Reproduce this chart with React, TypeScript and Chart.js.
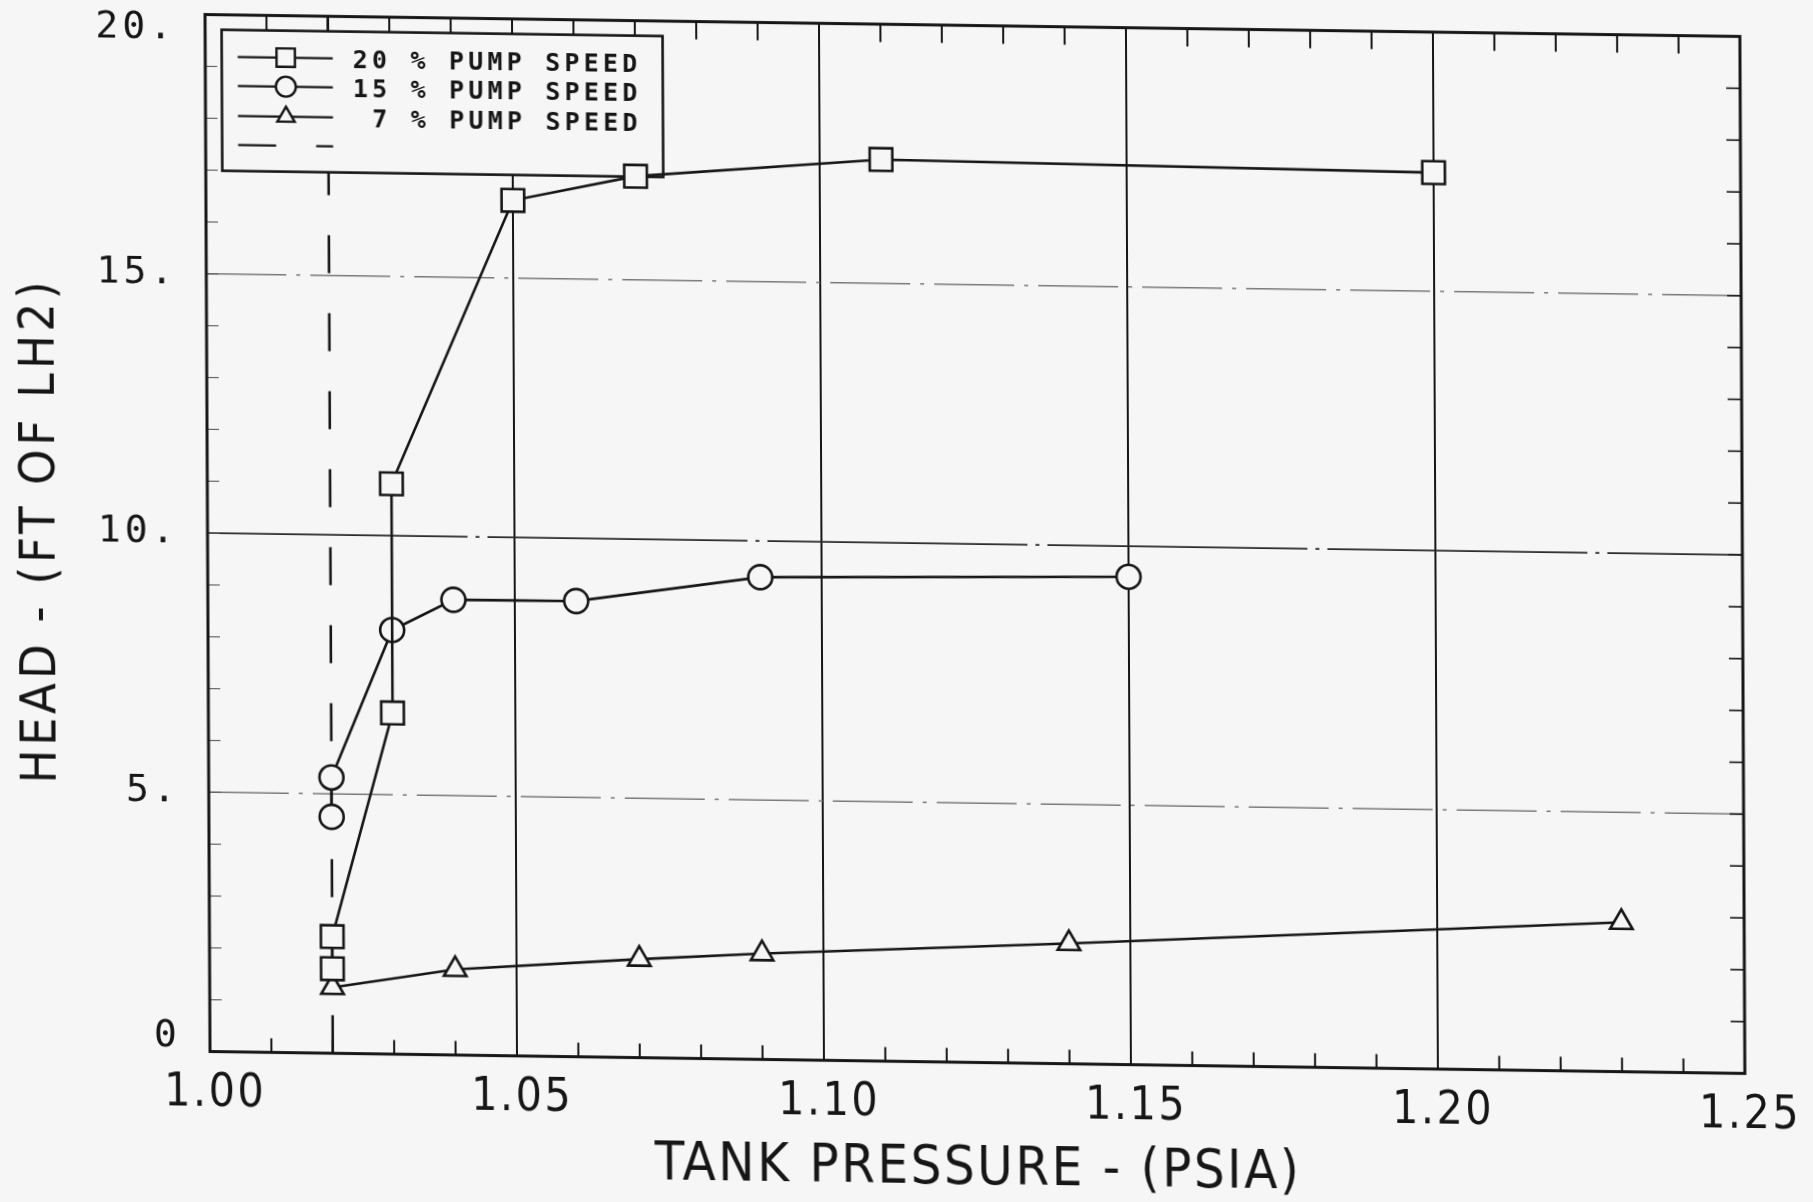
import React, { useEffect, useRef } from "react";
import { Chart, registerables } from "chart.js";

Chart.register(...registerables);

// ---- data ----
const X_20 = [1.02, 1.02, 1.03, 1.03, 1.05, 1.07, 1.11, 1.2];
const Y_20 = [1.63, 2.25, 6.58, 11.0, 16.5, 17.0, 17.39, 17.29];
const X_15 = [1.02, 1.02, 1.03, 1.04, 1.06, 1.09, 1.15];
const Y_15 = [4.56, 5.32, 8.18, 8.78, 8.79, 9.3, 9.41];
const X_7 = [1.02, 1.04, 1.07, 1.09, 1.14, 1.23];
const Y_7 = [1.27, 1.65, 1.9, 2.04, 2.32, 2.88];
const X_LIMIT = [1.02, 1.02];
const Y_LIMIT = [0, 20];
const SERIES_LABELS = ["20 % PUMP SPEED", "15 % PUMP SPEED", " 7 % PUMP SPEED", ""];

const X_TICK_VALUES = [1.0, 1.05, 1.1, 1.15, 1.2, 1.25];
const X_TICK_LABELS = ["1.00", "1.05", "1.10", "1.15", "1.20", "1.25"];
const Y_TICK_VALUES = [0, 5, 10, 15, 20];
const Y_TICK_LABELS = ["0", "5.", "10.", "15.", "20."];
const X_GRID = [1.05, 1.1, 1.15, 1.2];
const Y_GRID = [5, 10, 15];
const X_TITLE = "TANK PRESSURE - (PSIA)";
const Y_TITLE = "HEAD - (FT OF LH2)";

const INK = "#161616";
const BG = "#f6f6f6";
const NARROW = "'DejaVu Sans Condensed', 'Liberation Sans Narrow', 'Noto Sans', sans-serif";
const MONO = "'DejaVu Sans Mono', 'Liberation Mono', monospace";

const pts = (xs: number[], ys: number[]) => xs.map((x, i) => ({ x, y: ys[i] }));

// add canvas letter spacing to a scale's title / labels
function spaceScaleText(s: any, titleSpacing: string, labelSpacing: string) {
  if (s.__spaced) return;
  s.__spaced = true;
  const origTitle = s.drawTitle.bind(s);
  const origLabels = s.drawLabels.bind(s);
  s.drawTitle = (...args: any[]) => {
    const c: any = s.ctx;
    const prev = c.letterSpacing;
    c.letterSpacing = titleSpacing;
    origTitle(...args);
    c.letterSpacing = prev || "0px";
  };
  s.drawLabels = (...args: any[]) => {
    const c: any = s.ctx;
    const prev = c.letterSpacing;
    c.letterSpacing = labelSpacing;
    origLabels(...args);
    c.letterSpacing = prev || "0px";
  };
}

function drawMarker(ctx: CanvasRenderingContext2D, style: string, x: number, y: number, r: number) {
  ctx.beginPath();
  if (style === "rect") {
    const s = r * Math.SQRT1_2;
    ctx.rect(x - s, y - s, 2 * s, 2 * s);
  } else if (style === "circle") {
    ctx.arc(x, y, r, 0, Math.PI * 2);
  } else if (style === "triangle") {
    for (let k = 0; k < 3; k++) {
      const a = (k * 2 * Math.PI) / 3;
      const px = x + Math.sin(a) * r;
      const py = y - Math.cos(a) * r;
      if (k === 0) ctx.moveTo(px, py);
      else ctx.lineTo(px, py);
    }
    ctx.closePath();
  }
  ctx.fill();
  ctx.stroke();
}

const framePlugin = {
  id: "frame",
  beforeDraw(chart: any) {
    const ctx = chart.ctx;
    ctx.save();
    ctx.fillStyle = BG;
    ctx.fillRect(0, 0, chart.width, chart.height);
    ctx.restore();
  },
  beforeDatasetsDraw(chart: any) {
    const { ctx, chartArea: a, scales } = chart;
    const xs = scales.x;
    const ys = scales.y;
    ctx.save();
    ctx.lineCap = "butt";
    // vertical grid
    ctx.strokeStyle = INK;
    ctx.lineWidth = 2;
    X_GRID.forEach((v) => {
      const px = xs.getPixelForValue(v);
      ctx.beginPath();
      ctx.moveTo(px, a.top);
      ctx.lineTo(px, a.bottom);
      ctx.stroke();
    });
    // horizontal dash-dot grid
    Y_GRID.forEach((v) => {
      const py = ys.getPixelForValue(v);
      if (v === 10) {
        ctx.strokeStyle = "#2a2a2a";
        ctx.lineWidth = 1.8;
        ctx.setLineDash([260, 8, 4, 8]);
      } else {
        ctx.strokeStyle = "#7a7a7a";
        ctx.lineWidth = 1.5;
        ctx.setLineDash([80, 10, 4, 10]);
      }
      ctx.beginPath();
      ctx.moveTo(a.left, py);
      ctx.lineTo(a.right, py);
      ctx.stroke();
    });
    ctx.setLineDash([]);
    // minor ticks
    ctx.strokeStyle = INK;
    ctx.lineWidth = 2;
    for (let k = 0; k <= 25; k++) {
      const v = 1 + k / 100;
      const px = xs.getPixelForValue(v);
      ctx.beginPath();
      ctx.moveTo(px, a.top);
      ctx.lineTo(px, a.top + 18);
      ctx.moveTo(px, a.bottom);
      ctx.lineTo(px, a.bottom - 14);
      ctx.stroke();
    }
    for (let k = 0; k <= 20; k++) {
      const py = ys.getPixelForValue(k);
      ctx.lineWidth = 1.6;
      ctx.strokeStyle = INK;
      ctx.beginPath();
      ctx.moveTo(a.right, py);
      ctx.lineTo(a.right - 14, py);
      ctx.stroke();
      ctx.lineWidth = 1.2;
      ctx.strokeStyle = "#666";
      ctx.beginPath();
      ctx.moveTo(a.left, py);
      ctx.lineTo(a.left + 12, py);
      ctx.stroke();
    }
    // frame
    ctx.strokeStyle = INK;
    ctx.lineWidth = 3;
    ctx.strokeRect(a.left, a.top, a.right - a.left, a.bottom - a.top);
    ctx.restore();
  },
  afterDatasetDraw(chart: any, args: any) {
    if (args.index !== 3) return;
    const { ctx, chartArea: a } = chart;
    const bx = a.left + 16.5;
    const by = a.top + 15;
    const bw = 441;
    const bh = 141;
    ctx.save();
    ctx.fillStyle = BG;
    ctx.strokeStyle = INK;
    ctx.lineWidth = 2.6;
    ctx.fillRect(bx, by, bw, bh);
    ctx.strokeRect(bx, by, bw, bh);
    const rowY = [27, 56, 86, 115];
    const ds = chart.data.datasets;
    ds.forEach((d: any, i: number) => {
      const y = by + rowY[i];
      ctx.strokeStyle = INK;
      ctx.lineWidth = 2.2;
      ctx.setLineDash(i === 3 ? d.borderDash : []);
      ctx.beginPath();
      ctx.moveTo(bx + 16, y);
      ctx.lineTo(bx + 111, y);
      ctx.stroke();
      ctx.setLineDash([]);
      if (i < 3) {
        ctx.fillStyle = BG;
        ctx.lineWidth = 2.4;
        drawMarker(ctx, d.pointStyle, bx + 64, y, i === 0 ? 13 : 10);
      }
      if (d.label) {
        ctx.fillStyle = INK;
        ctx.font = `bold 25px ${MONO}`;
        (ctx as any).letterSpacing = "4.2px";
        ctx.textAlign = "left";
        ctx.textBaseline = "middle";
        ctx.fillText(d.label, bx + 131, y + 3);
        (ctx as any).letterSpacing = "0px";
      }
    });
    ctx.restore();
  },
};

export default function App() {
  const ref = useRef<HTMLCanvasElement>(null);
  useEffect(() => {
    document.body.style.background = BG;
    const markerCommon = {
      showLine: true,
      borderColor: INK,
      borderWidth: 2.6,
      pointBorderColor: INK,
      pointBackgroundColor: BG,
      pointBorderWidth: 2.6,
      tension: 0,
      order: 0,
    };
    const chart = new Chart(ref.current as HTMLCanvasElement, {
      type: "scatter",
      data: {
        datasets: [
          { ...markerCommon, label: SERIES_LABELS[0], data: pts(X_20, Y_20), pointStyle: "rect", pointRadius: 16 },
          { ...markerCommon, label: SERIES_LABELS[1], data: pts(X_15, Y_15), pointStyle: "circle", pointRadius: 12 },
          { ...markerCommon, label: SERIES_LABELS[2], data: pts(X_7, Y_7), pointStyle: "triangle", pointRadius: 13 },
          {
            label: SERIES_LABELS[3],
            data: pts(X_LIMIT, Y_LIMIT),
            showLine: true,
            borderColor: INK,
            borderWidth: 2.6,
            borderDash: [38, 40],
            pointRadius: 0,
            order: 10,
          },
        ] as any,
      },
      options: {
        animation: false,
        responsive: true,
        maintainAspectRatio: false,
        layout: { autoPadding: false, padding: { left: 0, right: 73, top: 11.6, bottom: 0 } },
        plugins: { legend: { display: false }, tooltip: { enabled: false } },
        scales: {
          x: {
            type: "linear",
            position: "bottom",
            min: 1.0,
            max: 1.25,
            afterFit: (s: any) => {
              s.height = 153.4;
              s.paddingLeft = 0;
              s.paddingRight = 0;
              spaceScaleText(s, "2.5px", "2.5px");
            },
            afterBuildTicks: (s: any) => {
              s.ticks = X_TICK_VALUES.map((v) => ({ value: v }));
            },
            ticks: {
              autoSkip: false,
              maxRotation: 0,
              color: INK,
              padding: 15,
              labelOffset: 5,
              font: { family: NARROW, size: 46 },
              callback: (_v: any, i: number) => X_TICK_LABELS[i],
            },
            grid: { display: false, drawTicks: false },
            border: { display: false },
            title: {
              display: true,
              text: X_TITLE,
              color: INK,
              font: { family: NARROW, size: 54 },
              padding: { top: 0, bottom: 14 },
            },
          },
          y: {
            type: "linear",
            position: "left",
            min: 0,
            max: 20,
            afterFit: (s: any) => {
              s.width = 205;
              s.paddingTop = 0;
              s.paddingBottom = 0;
              spaceScaleText(s, "3.8px", "4px");
            },
            afterBuildTicks: (s: any) => {
              s.ticks = Y_TICK_VALUES.map((v) => ({ value: v }));
            },
            ticks: {
              autoSkip: false,
              color: INK,
              padding: 29,
              font: { family: MONO, size: 38, lineHeight: 0.75 },
              callback: (_v: any, i: number) => {
                const t = Y_TICK_LABELS[i];
                if (i === 0) return [t, ""];
                if (i === Y_TICK_LABELS.length - 1) return ["", t];
                return t;
              },
            },
            grid: { display: false, drawTicks: false },
            border: { display: false },
            title: {
              display: true,
              text: Y_TITLE,
              color: INK,
              font: { family: NARROW, size: 50 },
              padding: { top: 9, bottom: 0 },
            },
          },
        },
      } as any,
      plugins: [framePlugin],
    });
    return () => chart.destroy();
  }, []);
  return (
    <div style={{ position: "absolute", left: 0, top: 0, width: 1813, height: 1202, overflow: "hidden", background: BG }}>
      <div
        style={{
          position: "absolute",
          left: 0,
          top: 0,
          width: 1813,
          height: 1202,
          transformOrigin: "0 0",
          transform: "matrix(1, 0.0143, 0.0048, 1, 0, 0)",
        }}
      >
        <canvas ref={ref} />
      </div>
    </div>
  );
}
